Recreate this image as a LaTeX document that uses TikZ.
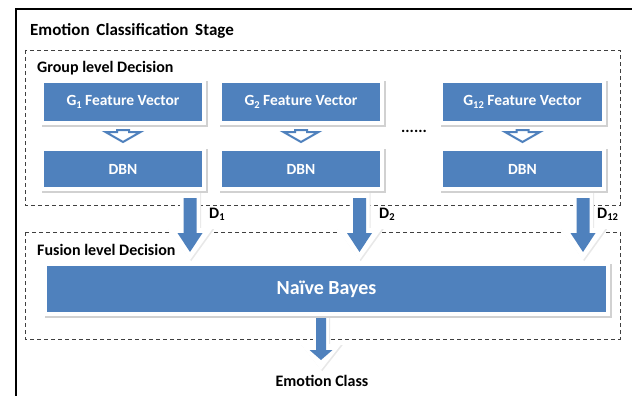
\documentclass[tikz,border=0pt]{standalone}
\usepackage{fontspec}
\setmainfont{Carlito}
\usetikzlibrary{calc,backgrounds}
\definecolor{boxblue}{HTML}{4F81BD}
\definecolor{dashgray}{HTML}{404040}
\newcommand\sbs[1]{\raisebox{-0.3ex}{\fontsize{10.5}{10.5}\selectfont #1}}
\newcommand\blockarrow[6]{% style, from, to, half shaft, half head, head length
  \path[#1] let \p1=(#2), \p2=(#3) in
    (\x1-#4,\y1) -- (\x1+#4,\y1) -- (\x1+#4,\y2+#6) -- (\x1+#5,\y2+#6) -- (\x1,\y2)
    -- (\x1-#5,\y2+#6) -- (\x1-#4,\y2+#6) -- cycle;}
\tikzset{
  shadowed/.style={preaction={draw=black!18, fill=black!18, line width=4pt,
      transform canvas={xshift=1.8pt,yshift=-2pt}}},
  bluebox/.style={shadowed, fill=boxblue, draw=white, line width=4pt, text=white,
      font=\bfseries\fontsize{15.5}{17}\selectfont, inner sep=0pt},
  lbl/.style={font=\bfseries\fontsize{16}{18}\selectfont, inner sep=0pt},
  dashbox/.style={draw=dashgray, line width=0.8pt, dash pattern=on 4pt off 3pt},
  hollowarrow/.style={fill=white, draw=boxblue, line width=2pt, line join=miter},
  glowarrow/.style={preaction={fill=black!9, transform canvas={xshift=1.2pt,yshift=-1.2pt}},
      fill=white},
  bluearrow/.style={fill=boxblue},
}
\begin{document}
\begin{tikzpicture}[x=1pt,y=-1pt]
\useasboundingbox (0,0) rectangle (632,396);
% outer frame
\draw[line width=1.4pt] (632,9) -- (16,9) -- (16,396);
\node[lbl, anchor=west, font=\bfseries\fontsize{17}{19}\selectfont] (title) at (30,31) {Emotion\, Classification\, Stage};

\begin{scope}[on background layer]
  \draw[dashbox] (25,50) rectangle (620,205);
  \draw[dashbox] (25,232) rectangle (620,339);
\end{scope}

% decision arrows (drawn below the boxes)
\coordinate (a1s) at (190,190);   \coordinate (a1e) at (190,252);
\coordinate (a2s) at (359.5,190); \coordinate (a2e) at (359.5,252);
\coordinate (a12s) at (583,190);  \coordinate (a12e) at (583,252);
\foreach \a in {a1,a2,a12}{
  \blockarrow{glowarrow}{\a s}{$(\a e)+(0,8)$}{10pt}{23pt}{32pt}
  \blockarrow{bluearrow}{$(\a s)+(0,8)$}{\a e}{6.5pt}{12.5pt}{19pt}
}

% feature vectors
\node[bluebox, minimum width=162, minimum height=42] (g1) at (123,102) {G\sbs{1} Feature Vector};
\node[bluebox, minimum width=162, minimum height=42] (g2) at (301,102) {G\sbs{2} Feature Vector};
\node[bluebox, minimum width=163, minimum height=42] (g12) at (522.5,102) {G\sbs{12} Feature Vector};
% DBN
\node[bluebox, minimum width=162, minimum height=40] (dbn1) at (123,169) {DBN};
\node[bluebox, minimum width=162, minimum height=40] (dbn2) at (301,169) {DBN};
\node[bluebox, minimum width=163, minimum height=40] (dbn12) at (522.5,169) {DBN};
\node[lbl] (dots) at (414,131) {......};

% output arrow (drawn below the Naive Bayes box)
\coordinate (os) at (321,305);
\coordinate (oe) at (321,360);
\blockarrow{glowarrow}{os}{$(oe)+(0,10)$}{8pt}{20.5pt}{26pt}
\blockarrow{bluearrow}{$(os)+(0,10)$}{oe}{5pt}{11.5pt}{10pt}

% Naive Bayes
\node[bluebox, minimum width=563, minimum height=50,
      font=\bfseries\fontsize{20}{22}\selectfont] (nb) at (326.5,289) {Naïve Bayes};

\node[lbl, anchor=west] (grp) at (37,68) {Group level Decision};
\node[lbl, anchor=west] (fus) at (37,250) {Fusion level Decision};

% hollow arrows
\coordinate (h1s) at ($(g1.south)+(0,5)$);   \coordinate (h1e) at ($(dbn1.north)+(0,-5)$);
\coordinate (h2s) at ($(g2.south)+(0,5)$);   \coordinate (h2e) at ($(dbn2.north)+(0,-5)$);
\coordinate (h12s) at ($(g12.south)+(0,5)$); \coordinate (h12e) at ($(dbn12.north)+(0,-5)$);
\blockarrow{hollowarrow}{h1s}{h1e}{6pt}{17.5pt}{10pt}
\blockarrow{hollowarrow}{h2s}{h2e}{6pt}{17.5pt}{10pt}
\blockarrow{hollowarrow}{h12s}{h12e}{6pt}{17.5pt}{10pt}

\node[lbl, anchor=west] (d1) at (209,214) {D\sbs{1}};
\node[lbl, anchor=west] (d2) at (379,214) {D\sbs{2}};
\node[lbl, anchor=west] (d12) at (597,214) {D\sbs{12}};

\node[lbl] (out) at (322,381) {Emotion Class};
\end{tikzpicture}
\end{document}
